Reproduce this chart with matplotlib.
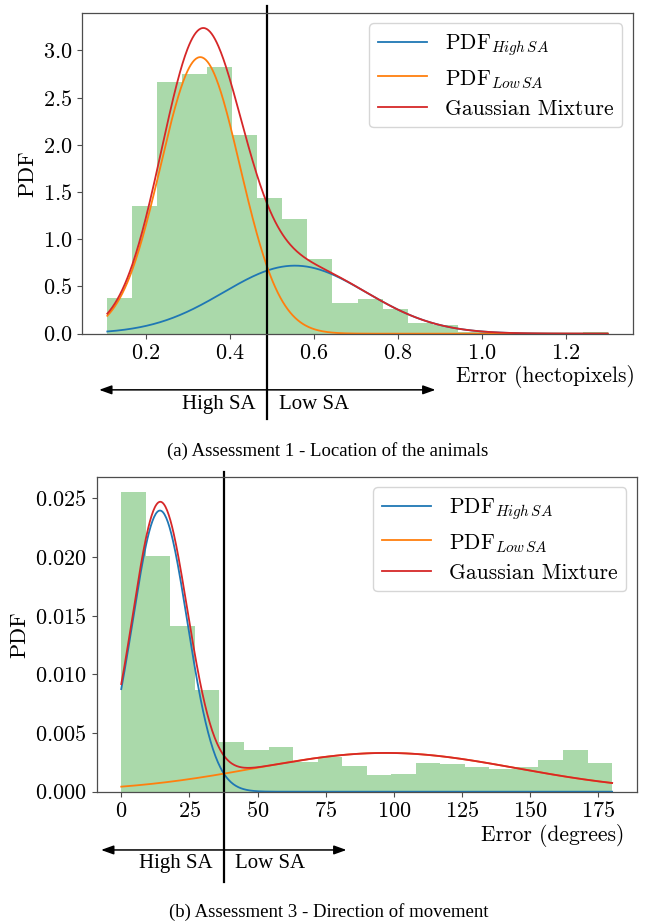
import matplotlib
matplotlib.use("Agg")
import matplotlib.pyplot as plt
import matplotlib.transforms as mtransforms
import numpy as np

# ---------------------------------------------------------------------------- #
#                                     Data                                     #
# ---------------------------------------------------------------------------- #

# Assessment 1 - location error (hectopixels), 20 bins, density
loc_range = (0.109, 1.299)
loc_density = [0.38, 1.35, 2.67, 2.75, 2.82, 2.10, 1.44, 1.21, 0.79, 0.33,
               0.37, 0.26, 0.11, 0.09, 0.02, 0.02, 0.0, 0.0, 0.0, 0.02]
loc_high = (0.555, 0.170, 0.307)                 # mean, std, weight
loc_low = (0.330, 0.0944, 0.693)
loc_threshold = 0.4895
loc_arrow = 0.4                                  # half length of arrow

# Assessment 3 - direction error (degrees), 20 bins, density
dir_range = (0.0, 180.0)
dir_density = [0.02554, 0.02003, 0.01412, 0.00869, 0.00426, 0.00355, 0.00384,
               0.00250, 0.00293, 0.00219, 0.00142, 0.00153, 0.00247, 0.00239,
               0.00213, 0.00193, 0.00210, 0.00270, 0.00355, 0.00247]
dir_high = (14.2, 10.0, 0.600)
dir_low = (97.0, 48.0, 0.397)
dir_threshold = 37.6
dir_arrow = 45.0

legend_labels = [r'PDF$_{High\,SA}$', r'PDF$_{Low\,SA}$', 'Gaussian Mixture']

# ---------------------------------------------------------------------------- #
#                                     Style                                    #
# ---------------------------------------------------------------------------- #

plt.rcParams['font.family'] = 'cmr10'
plt.rcParams['mathtext.fontset'] = 'cm'
plt.rcParams['axes.formatter.use_mathtext'] = True
plt.rcParams['font.size'] = 15
plt.rcParams['xtick.labelsize'] = 16
plt.rcParams['ytick.labelsize'] = 16
plt.rcParams['axes.edgecolor'] = '0.3'
plt.rcParams['axes.linewidth'] = 0.9
plt.rcParams['xtick.color'] = '0.3'
plt.rcParams['ytick.color'] = '0.3'
plt.rcParams['xtick.labelcolor'] = 'black'
plt.rcParams['ytick.labelcolor'] = 'black'

TIMES = 'Liberation Serif'


def gauss(x, p):
	mu, sd, w = p
	return w * np.exp(-0.5 * ((x - mu) / sd) ** 2) / (sd * np.sqrt(2 * np.pi))


def panel(ax, rng, density, high, low, thr, half, xlabel, xl_pos, marks):
	edges = np.linspace(rng[0], rng[1], len(density) + 1)
	ax.hist(edges[:-1], bins=edges, weights=density, color='tab:green', alpha=0.4)

	x = np.linspace(rng[0], rng[1], 600)
	ax.plot(x, gauss(x, high), color='tab:blue', lw=1.3, label=legend_labels[0])
	ax.plot(x, gauss(x, low), color='tab:orange', lw=1.3, label=legend_labels[1])
	ax.plot(x, gauss(x, high) + gauss(x, low), color='tab:red', lw=1.3,
		label=legend_labels[2])

	ax.set_ylabel('PDF', fontsize=16)
	ax.text(xl_pos[0], xl_pos[1], xlabel, transform=ax.transAxes,
		ha='right', va='center', fontsize=15.5)
	ax.legend(loc='upper right', handlelength=2.3, fontsize=15.5, labelspacing=0.45)

	# threshold line, arrow and SA labels (below the axes)
	top, bottom, y_arrow, y_text = marks
	trans = mtransforms.blended_transform_factory(ax.transData, ax.transAxes)
	ax.plot([thr, thr], [top, bottom], color='black', lw=1.6,
		transform=trans, clip_on=False)
	ax.annotate('', xy=(thr - half, y_arrow), xytext=(thr + half, y_arrow),
		xycoords=trans, textcoords=trans, annotation_clip=False,
		arrowprops=dict(arrowstyle='<|-|>,head_length=0.5,head_width=0.18',
			color='black', lw=1.1, shrinkA=0, shrinkB=0))
	off = 0.021 * (ax.get_xlim()[1] - ax.get_xlim()[0])
	ax.text(thr - off, y_text, 'High SA', transform=trans, ha='right',
		va='center', family=TIMES, fontsize=15)
	ax.text(thr + off, y_text, 'Low SA', transform=trans, ha='left',
		va='center', family=TIMES, fontsize=15)


fig = plt.figure(figsize=(6.49, 9.21), dpi=100)

ax1 = fig.add_axes([0.1268, 0.6377, 0.8481, 0.3485])
panel(ax1, loc_range, loc_density, loc_high, loc_low, loc_threshold, loc_arrow,
	'Error (hectopixels)', (1.004, -0.134), (1.021, -0.266, -0.175, -0.222))

ax2 = fig.add_axes([0.149, 0.1404, 0.832, 0.342])
panel(ax2, dir_range, dir_density, dir_high, dir_low, dir_threshold, dir_arrow,
	'Error (degrees)', (0.9765, -0.1375), (1.016, -0.286, -0.185, -0.229))

fig.text(0.505, 1 - 450.7 / 921, '(a) Assessment 1 - Location of the animals',
	ha='center', va='center', family=TIMES, fontsize=13.5)
fig.text(0.507, 1 - 911.7 / 921, '(b) Assessment 3 - Direction of movement',
	ha='center', va='center', family=TIMES, fontsize=13.5)

fig.savefig('out.png', dpi=100)
